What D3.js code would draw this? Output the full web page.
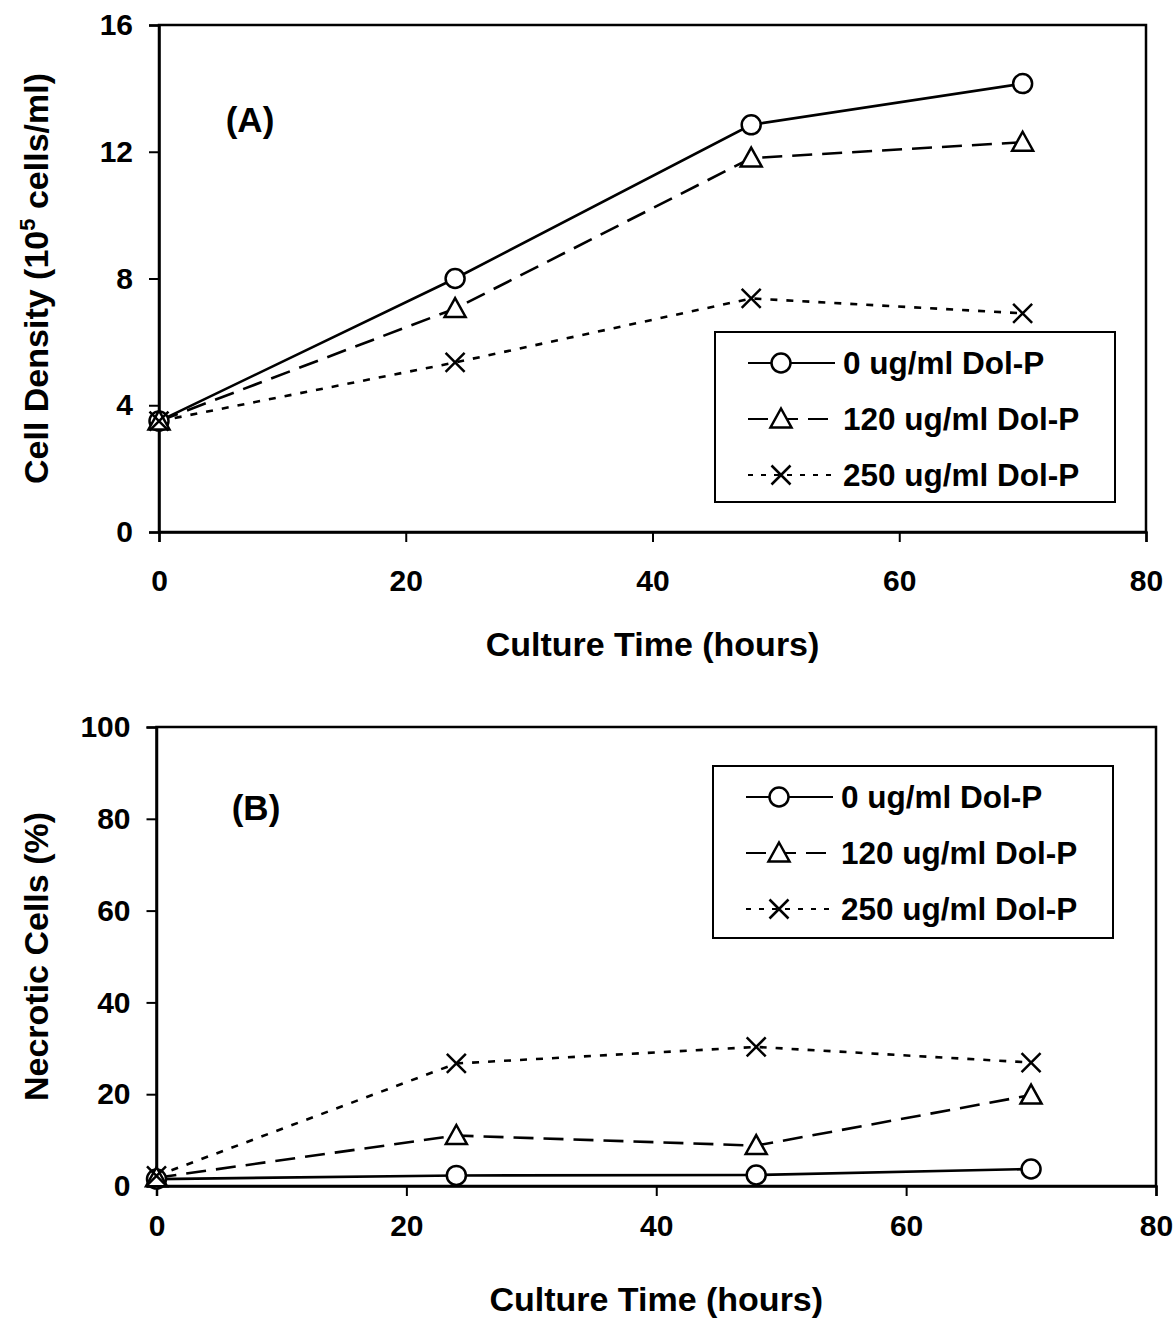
<!DOCTYPE html>
<html>
<head>
<meta charset="utf-8">
<script src="https://cdn.jsdelivr.net/npm/d3@7"></script>
<style>
  html, body { margin: 0; padding: 0; background: #fff; }
  svg { display: block; font-family: "Liberation Sans", Arial, sans-serif; font-weight: bold; }
</style>
</head>
<body>
<svg id="fig" width="1175" height="1319"></svg>
<script>
// Culture time points (hours)
const hours = [0, 24, 48, 70];

// Series labels (Dol-P concentration)
const seriesNames = ["0 ug/ml Dol-P", "120 ug/ml Dol-P", "250 ug/ml Dol-P"];

// Panel A: cell density, 10^5 cells/ml
const densityDol0   = [3.5, 8.0, 12.85, 14.15];
const densityDol120 = [3.5, 7.05, 11.8, 12.3];
const densityDol250 = [3.5, 5.35, 7.37, 6.9];

// Panel B: necrotic cells, %
const necroticDol0   = [1.5, 2.3, 2.4, 3.7];
const necroticDol120 = [1.8, 11.0, 8.8, 19.8];
const necroticDol250 = [2.2, 26.7, 30.3, 26.9];

// Axis ticks
const xTicks = [0, 20, 40, 60, 80];
const yTicksA = [0, 4, 8, 12, 16];
const yTicksB = [0, 20, 40, 60, 80, 100];

const styles = [
  { dash: null,    legendDash: null,    marker: "circle" },
  { dash: "20,10", legendDash: "20,10", marker: "triangle" },
  { dash: "7,9",   legendDash: "5,8",   marker: "cross" }
];

const svg = d3.select("#fig");

function drawMarker(g, type, x, y) {
  if (type === "circle") {
    g.append("circle").attr("cx", x).attr("cy", y).attr("r", 9.5)
      .attr("fill", "#fff").attr("stroke", "#000").attr("stroke-width", 2.5);
  } else if (type === "triangle") {
    const s = 10.5;
    g.append("path")
      .attr("d", `M${x},${y - s}L${x + s},${y + s * 0.8}L${x - s},${y + s * 0.8}Z`)
      .attr("fill", "#fff").attr("stroke", "#000").attr("stroke-width", 2.5);
  } else {
    const s = 9.5;
    g.append("path")
      .attr("d", `M${x - s},${y - s}L${x + s},${y + s}M${x - s},${y + s}L${x + s},${y - s}`)
      .attr("fill", "none").attr("stroke", "#000").attr("stroke-width", 2.5);
  }
}

function panel(opts) {
  const { left, right, top, bottom, yMax, yTicks, series, yTitle, yTitleSup, tag, tagPos,
          legendBox, xTitleY, yTitleX, xPad } = opts;
  const g = svg.append("g");
  const x = d3.scaleLinear().domain([0, 80]).range([left, right]);
  const y = d3.scaleLinear().domain([0, yMax]).range([bottom, top]);

  // frame
  g.append("rect").attr("x", left).attr("y", top)
    .attr("width", right - left).attr("height", bottom - top)
    .attr("fill", "none").attr("stroke", "#000").attr("stroke-width", 2.5);

  // axes
  const xAxis = d3.axisBottom(x).tickValues(xTicks).tickSize(10).tickPadding(xPad);
  const yAxis = d3.axisLeft(y).tickValues(yTicks).tickSize(10).tickPadding(16);
  const gx = g.append("g").attr("transform", `translate(0,${bottom})`).call(xAxis);
  const gy = g.append("g").attr("transform", `translate(${left},0)`).call(yAxis);
  [gx, gy].forEach(a => {
    a.select(".domain").attr("stroke", "#000").attr("stroke-width", 2.5);
    a.selectAll(".tick line").attr("stroke", "#000").attr("stroke-width", 2);
    a.selectAll(".tick text").attr("fill", "#000")
      .style("font-size", "30px").style("font-weight", "bold")
      .style("font-family", "'Liberation Sans', Arial, sans-serif");
  });

  // series
  const line = d3.line().x((d, i) => x(hours[i])).y(d => y(d));
  series.forEach((vals, k) => {
    g.append("path").datum(vals).attr("d", line)
      .attr("fill", "none").attr("stroke", "#000").attr("stroke-width", 2.6)
      .attr("stroke-dasharray", styles[k].dash);
  });
  series.forEach((vals, k) => {
    vals.forEach((v, i) => drawMarker(g, styles[k].marker, x(hours[i]), y(v)));
  });

  // panel tag
  g.append("text").attr("x", tagPos[0]).attr("y", tagPos[1])
    .attr("text-anchor", "middle").style("font-size", "35px").text(tag);

  // legend
  const lb = legendBox;
  g.append("rect").attr("x", lb.x).attr("y", lb.y).attr("width", lb.w).attr("height", lb.h)
    .attr("fill", "#fff").attr("stroke", "#000").attr("stroke-width", 2);
  seriesNames.forEach((name, k) => {
    const cy = lb.y + 31 + k * 56;
    g.append("line").attr("x1", lb.x + 33).attr("x2", lb.x + 120).attr("y1", cy).attr("y2", cy)
      .attr("stroke", "#000").attr("stroke-width", 2)
      .attr("stroke-dasharray", styles[k].legendDash);
    drawMarker(g, styles[k].marker, lb.x + 66, cy);
    g.append("text").attr("x", lb.x + 128).attr("y", cy + 11)
      .style("font-size", "31.5px").text(name);
  });

  // axis titles
  g.append("text").attr("x", (left + right) / 2).attr("y", xTitleY)
    .attr("text-anchor", "middle").style("font-size", "34px").text("Culture Time (hours)");
  const yt = g.append("text")
    .attr("transform", `translate(${yTitleX},${(top + bottom) / 2}) rotate(-90)`)
    .attr("text-anchor", "middle").style("font-size", "34px");
  if (yTitleSup) {
    yt.append("tspan").text(yTitle[0]);
    yt.append("tspan").attr("dy", -13).style("font-size", "22px").text(yTitleSup);
    yt.append("tspan").attr("dy", 13).text(yTitle[1]);
  } else {
    yt.text(yTitle);
  }
}

panel({
  left: 159, right: 1146, top: 25, bottom: 532,
  yMax: 16, yTicks: yTicksA,
  series: [densityDol0, densityDol120, densityDol250],
  yTitle: ["Cell Density (10", " cells/ml)"], yTitleSup: "5",
  tag: "(A)", tagPos: [250, 132],
  legendBox: { x: 715, y: 332, w: 400, h: 170 },
  xTitleY: 656, yTitleX: 48, xPad: 28
});

panel({
  left: 156.5, right: 1156, top: 727, bottom: 1186,
  yMax: 100, yTicks: yTicksB,
  series: [necroticDol0, necroticDol120, necroticDol250],
  yTitle: "Necrotic Cells (%)", yTitleSup: null,
  tag: "(B)", tagPos: [256, 820],
  legendBox: { x: 713, y: 766, w: 400, h: 172 },
  xTitleY: 1311, yTitleX: 48, xPad: 19
});
</script>
</body>
</html>
